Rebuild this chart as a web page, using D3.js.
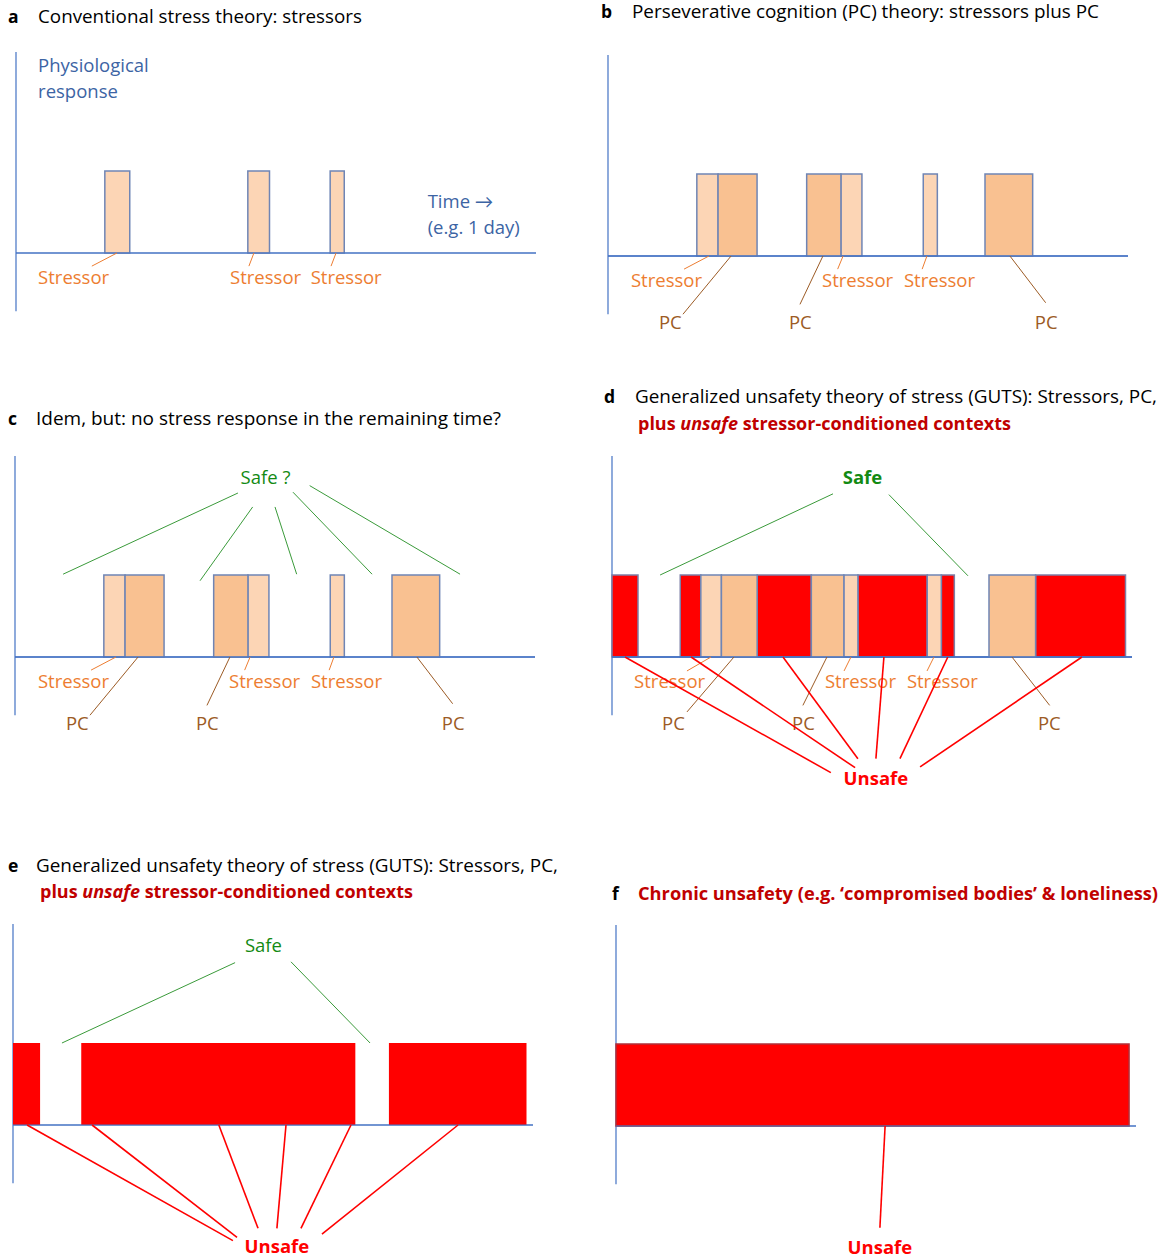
<!DOCTYPE html>
<html>
<head>
<meta charset="utf-8">
<script src="https://cdn.jsdelivr.net/npm/d3@7"></script>
<style>
  body { margin: 0; background: #fff; }
  svg { font-family: "Open Sans", Lato, sans-serif; font-size: 18.5px; }
</style>
</head>
<body>
<svg width="1166" height="1258"></svg>
<script>
// time is in hours (the axis is one day), levels are in bar heights (0 = axis, 1 = top of a bar)

// panel a
const stressorsA = [[4.1, 5.25], [10.7, 11.7], [14.5, 15.15]];
const stressorLeadersA = [[4.66, 3.5], [10.98, 10.75], [14.77, 14.54]];
const stressorLabelsA = [1.02, 9.88, 13.6];

// panels b and c
const stressors = [[4.1, 5.08], [10.75, 11.72], [14.55, 15.2]];
const pcEpisodes = [[5.08, 6.88], [9.17, 10.75], [17.4, 19.6]];
const stressorLeaders = [[4.66, 3.51], [10.85, 10.6], [14.72, 14.5]];
const pcLeaders = [[5.68, 3.46, -0.71], [9.92, 8.86, -0.59], [18.55, 20.2, -0.57]];
const stressorLabels = [1.06, 9.88, 13.66];
const pcLabels = [2.35, 8.35, 19.7];
const safeLinesC = [[10.29, 2.0, 2.22, 1.01], [10.97, 1.83, 8.54, 0.93], [12.0, 1.83, 13.0, 1.01],
                    [12.83, 2.01, 16.48, 1.01], [13.6, 2.09, 20.54, 1.01]];

// panel d
const unsafeD = [[0, 1.2], [3.15, 4.1], [6.7, 9.2], [11.35, 14.55], [15.2, 15.8], [19.55, 23.7]];
const stressorsD = [[4.1, 5.05], [10.7, 11.35], [14.55, 15.2]];
const pcD = [[5.05, 6.7], [9.2, 10.7], [17.4, 19.55]];
const stressorLeadersD = [[4.57, 3.46], [11.03, 10.71], [14.86, 14.54]];
const pcLeadersD = [[5.63, 3.46, -0.67], [9.92, 8.81, -0.59], [18.46, 20.2, -0.59]];
const stressorLabelsD = [1.02, 9.83, 13.61];
const pcLabelsD = [2.31, 8.31, 19.66];
const safeLinesD = [[10.2, 1.99, 2.22, 1.0], [12.78, 1.98, 16.43, 0.99]];
const unsafeLinesD = [[0.6, 10.1, -1.41], [3.65, 11.22, -1.35], [7.89, 11.35, -1.24],
                      [12.55, 12.18, -1.24], [15.5, 13.29, -1.24], [21.69, 14.22, -1.34]];

// panel e
const unsafeE = [[0, 1.25], [3.15, 15.8], [17.35, 23.7]];
const safeLinesE = [[10.25, 1.98, 2.26, 1.0], [12.83, 1.99, 16.48, 1.0]];
const unsafeLinesE = [[0.65, 10.15, -1.41], [3.65, 10.34, -1.37], [9.5, 11.31, -1.26],
                      [12.6, 12.18, -1.26], [15.6, 13.29, -1.26], [20.54, 14.26, -1.33]];

// panel f
const unsafeF = [[0, 23.68]];
const unsafeLinesF = [[12.42, 12.18, -1.24]];

const safeLabel = [11.56, 2.11];
const unsafeLabel = [12.18, -1.56];

const col = {
  axis: "#4472C4", axisText: "#3C64A4", stressor: "#ED7D31", pc: "#9C5B25",
  light: "#FCD5B5", dark: "#F9C191", edge: "#6F85B5", red: "#FF0000",
  darkRed: "#C00000", green: "#138A13", greenLine: "#3A9A3A"
};

const svg = d3.select("svg");

const panel = (x0, y0) => {
  const g = svg.append("g");
  const x = d3.scaleLinear().domain([0, 24]).range([x0, x0 + 520]);
  const y = d3.scaleLinear().domain([0, 1]).range([y0, y0 - 82]);

  g.append("line")
      .attr("x1", x(0)).attr("x2", x(0))
      .attr("y1", y(2.45)).attr("y2", y(-0.71))
      .attr("stroke", col.axis).attr("stroke-width", 1.2);
  g.append("line")
      .attr("x1", x(0)).attr("x2", x(24))
      .attr("y1", y(0)).attr("y2", y(0))
      .attr("stroke", col.axis).attr("stroke-width", 1.2);

  return { g, x, y };
};

const bars = (p, data, fill, edge) => {
  p.g.append("g").selectAll("rect")
    .data(data)
    .join("rect")
      .attr("x", d => p.x(d[0]))
      .attr("width", d => p.x(d[1]) - p.x(d[0]))
      .attr("y", p.y(1))
      .attr("height", p.y(0) - p.y(1))
      .attr("fill", fill)
      .attr("stroke", edge || "none")
      .attr("stroke-width", 1.5);
  // redraw the axis line over the bars
  p.g.append("line")
      .attr("x1", p.x(0)).attr("x2", p.x(24))
      .attr("y1", p.y(0)).attr("y2", p.y(0))
      .attr("stroke", col.axis).attr("stroke-width", 1.2);
};

// [t0, level0, t1, level1]
const lines = (p, data, color, width) => {
  p.g.append("g").selectAll("line")
    .data(data)
    .join("line")
      .attr("x1", d => p.x(d[0])).attr("y1", d => p.y(d[1]))
      .attr("x2", d => p.x(d[2])).attr("y2", d => p.y(d[3]))
      .attr("stroke", color)
      .attr("stroke-width", width);
};

const fromAxis = (data, level) => data.map(d => [d[0], 0, d[1], d.length > 2 ? d[2] : level]);

const labels = (p, ts, level, text, color, opts = {}) => {
  p.g.append("g").selectAll("text")
    .data(ts)
    .join("text")
      .attr("x", d => p.x(d))
      .attr("y", p.y(level))
      .attr("fill", color)
      .attr("text-anchor", opts.anchor || "start")
      .attr("font-weight", opts.weight || "normal")
      .text(text);
};

const title = (x, y, letter) => {
  svg.append("text").attr("x", x).attr("y", y)
      .attr("font-size", 17.5)
      .attr("font-weight", "bold").text(letter);
};

const titleLine = (x, y, parts, color, weight, width) => {
  const t = svg.append("text").attr("x", x).attr("y", y)
      .attr("font-size", 17.5)
      .attr("fill", color).attr("font-weight", weight)
      .attr("textLength", width).attr("lengthAdjust", "spacingAndGlyphs");
  parts.forEach(([s, italic]) => t.append("tspan")
      .attr("font-style", italic ? "italic" : "normal").text(s));
};

// ---- a
title(8, 23, "a");
titleLine(38, 23, [["Conventional stress theory: stressors"]], "#000", "normal", 324);
const pa = panel(16, 253);
bars(pa, stressorsA, col.light, col.edge);
lines(pa, fromAxis(stressorLeadersA, -0.16), col.stressor, 1);
labels(pa, stressorLabelsA, -0.38, "Stressor", col.stressor);
labels(pa, [1.02], 2.21, "Physiological", col.axisText);
labels(pa, [1.02], 1.89, "response", col.axisText);
labels(pa, [19.0], 0.55, "Time \u2192", col.axisText);
labels(pa, [19.0], 0.23, "(e.g. 1 day)", col.axisText);

// ---- b
title(601, 18, "b");
titleLine(632, 18, [["Perseverative cognition (PC) theory: stressors plus PC"]], "#000", "normal", 467);
const pb = panel(608, 256);
bars(pb, stressors, col.light, col.edge);
bars(pb, pcEpisodes, col.dark, col.edge);
lines(pb, fromAxis(stressorLeaders, -0.16), col.stressor, 1);
lines(pb, fromAxis(pcLeaders), col.pc, 1);
labels(pb, stressorLabels, -0.38, "Stressor", col.stressor);
labels(pb, pcLabels, -0.89, "PC", col.pc);

// ---- c
title(8, 425, "c");
titleLine(36, 425, [["Idem, but: no stress response in the remaining time?"]], "#000", "normal", 465);
const pc = panel(15, 657);
bars(pc, stressors, col.light, col.edge);
bars(pc, pcEpisodes, col.dark, col.edge);
lines(pc, fromAxis(stressorLeaders, -0.16), col.stressor, 1);
lines(pc, fromAxis(pcLeaders), col.pc, 1);
labels(pc, stressorLabels, -0.38, "Stressor", col.stressor);
labels(pc, pcLabels, -0.89, "PC", col.pc);
lines(pc, safeLinesC, col.greenLine, 1);
labels(pc, [safeLabel[0]], safeLabel[1], "Safe ?", col.green, { anchor: "middle" });

// ---- d
title(604, 403, "d");
titleLine(635, 403, [["Generalized unsafety theory of stress (GUTS): Stressors, PC,"]], "#000", "normal", 522);
titleLine(638, 430, [["plus "], ["unsafe", true], [" stressor-conditioned contexts"]], col.darkRed, "bold", 373);
const pd = panel(612, 657);
bars(pd, unsafeD, col.red, "#7d7fa6");
bars(pd, stressorsD, col.light, col.edge);
bars(pd, pcD, col.dark, col.edge);
lines(pd, fromAxis(stressorLeadersD, -0.17), col.stressor, 1);
lines(pd, fromAxis(pcLeadersD), col.pc, 1);
labels(pd, stressorLabelsD, -0.38, "Stressor", col.stressor);
labels(pd, pcLabelsD, -0.89, "PC", col.pc);
lines(pd, safeLinesD, col.greenLine, 1);
labels(pd, [safeLabel[0]], safeLabel[1], "Safe", col.green, { anchor: "middle", weight: "bold" });
lines(pd, fromAxis(unsafeLinesD), col.red, 1.6);
labels(pd, [unsafeLabel[0]], unsafeLabel[1], "Unsafe", col.red, { anchor: "middle", weight: "bold" });

// ---- e
title(8, 872, "e");
titleLine(36, 872, [["Generalized unsafety theory of stress (GUTS): Stressors, PC,"]], "#000", "normal", 522);
titleLine(40, 898, [["plus "], ["unsafe", true], [" stressor-conditioned contexts"]], col.darkRed, "bold", 373);
const pe = panel(13, 1125);
bars(pe, unsafeE, col.red);
lines(pe, safeLinesE, col.greenLine, 1);
labels(pe, [safeLabel[0]], safeLabel[1], "Safe", col.green, { anchor: "middle" });
lines(pe, fromAxis(unsafeLinesE), col.red, 1.6);
labels(pe, [unsafeLabel[0]], unsafeLabel[1], "Unsafe", col.red, { anchor: "middle", weight: "bold" });

// ---- f
title(612, 900, "f");
titleLine(638, 900, [["Chronic unsafety (e.g. \u2018compromised bodies\u2019 & loneliness)"]], col.darkRed, "bold", 520);
const pf = panel(616, 1126);
bars(pf, unsafeF, col.red, "#b0303a");
lines(pf, fromAxis(unsafeLinesF), col.red, 1.6);
labels(pf, [unsafeLabel[0]], unsafeLabel[1], "Unsafe", col.red, { anchor: "middle", weight: "bold" });
</script>
</body>
</html>
